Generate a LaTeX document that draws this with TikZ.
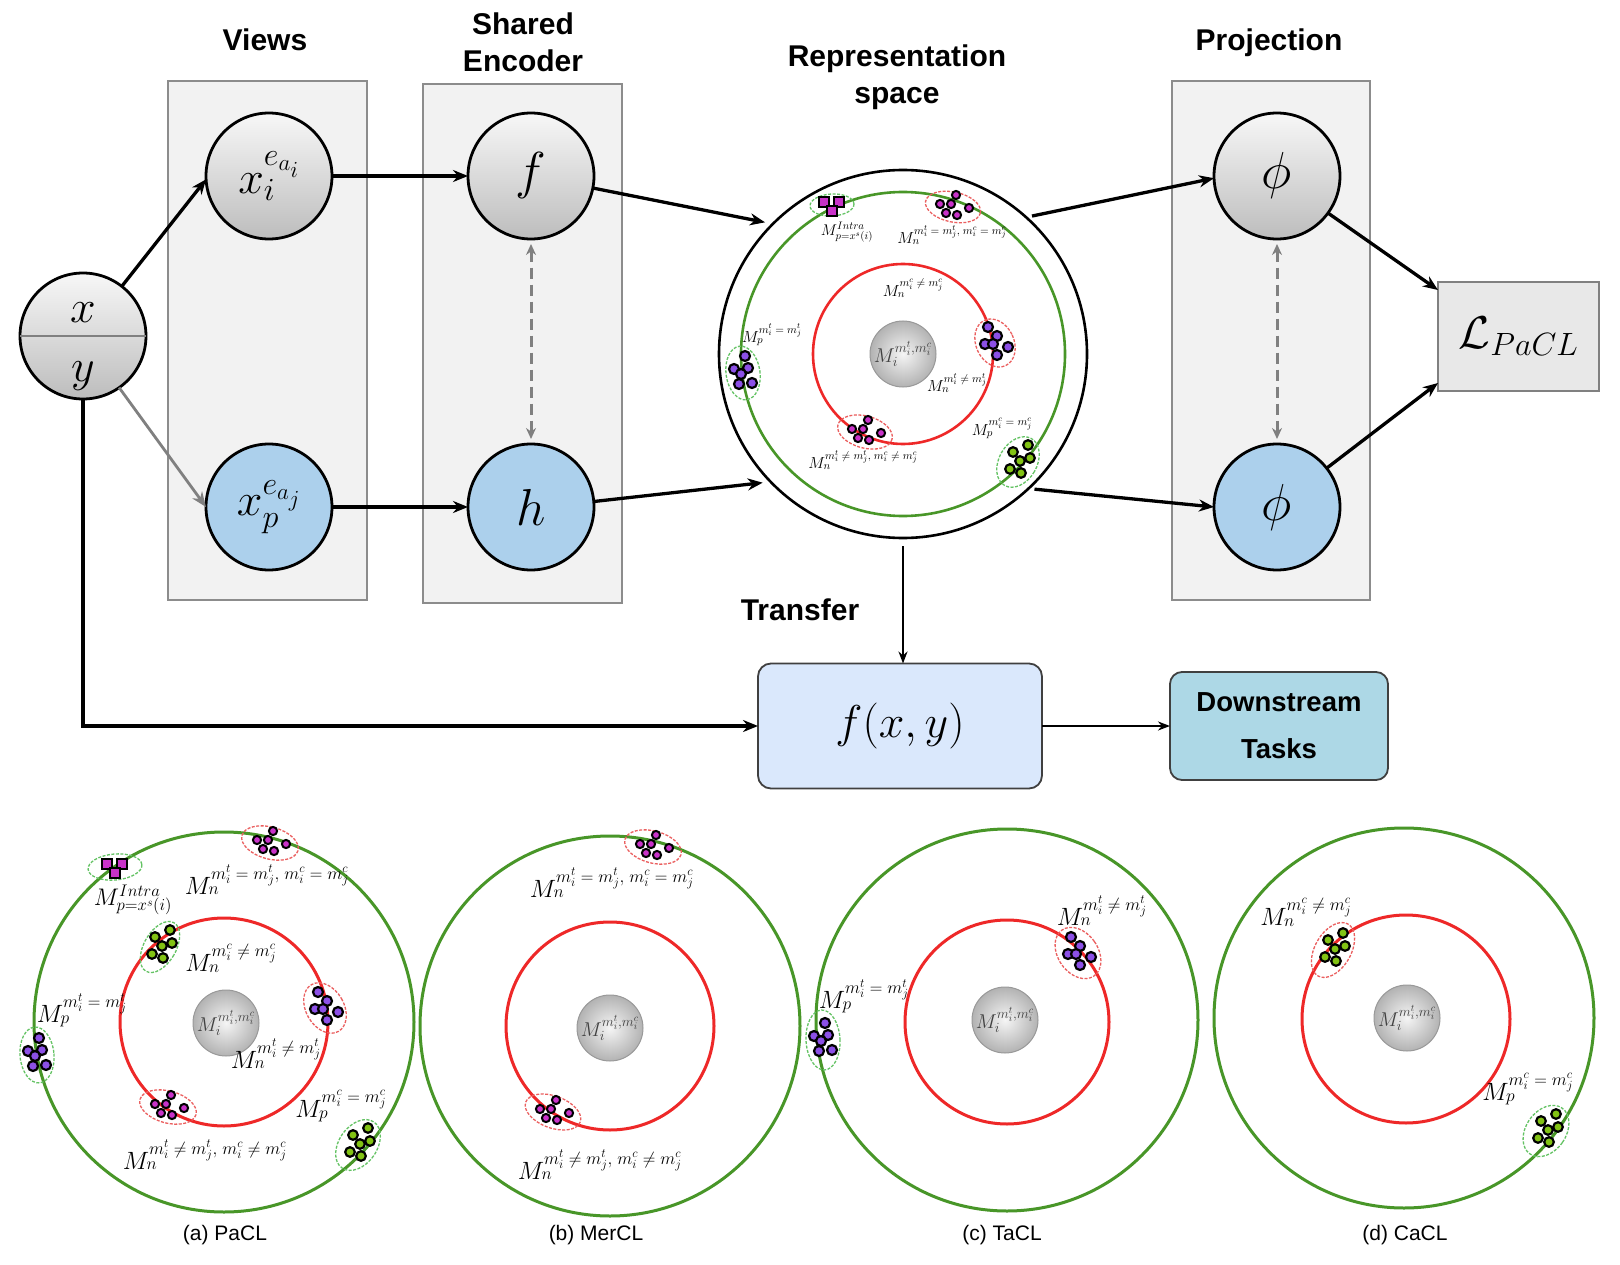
\RequirePackage{fix-cm}
\documentclass[tikz,border=0pt]{standalone}
\usepackage{fontspec}
\newfontfamily\hv{Liberation Sans}
\usetikzlibrary{arrows.meta,shapes.geometric,shadings,calc}
\definecolor{cblue}{RGB}{172,208,236}
\definecolor{gring}{RGB}{72,150,40}
\definecolor{rring}{RGB}{238,40,40}
\definecolor{gdash}{RGB}{100,195,100}
\definecolor{rdash}{RGB}{235,95,95}
\definecolor{cpur}{RGB}{140,80,230}
\definecolor{cpink}{RGB}{200,50,200}
\definecolor{cgrn}{RGB}{130,195,20}
\definecolor{fxyfill}{RGB}{218,232,252}
\definecolor{dsfill}{RGB}{173,216,230}
\newcommand\tEq{m_i^t\;=\;m_j^t}
\newcommand\cEq{m_i^c\;=\;m_j^c}
\newcommand\tNe{m_i^t\;\neq\;m_j^t}
\newcommand\cNe{m_i^c\;\neq\;m_j^c}
\newcommand\ovl[6]{\draw[#6,rotate around={#3:(#1,#2)}] (#1,#2) ellipse [x radius=#4, y radius=#5];}
\newcommand\purA[2]{\foreach \dx/\dy in {2/-17,-9/-4,5/-5,-2/1,-4/11,9/10}{\draw[pball] ({#1+\dx},{#2+\dy}) circle[radius=5];}}
\newcommand\purB[2]{\foreach \dx/\dy in {-7/-16,-10/1,2/-7,-2/1,2/12,13/4}{\draw[pball] ({#1+\dx},{#2+\dy}) circle[radius=5];}}
\newcommand\grn[2]{\foreach \dx/\dy in {10/-17,-5/-10,2/-1,12/-4,-8/7,3/11}{\draw[gball] ({#1+\dx},{#2+\dy}) circle[radius=4.8];}}
\newcommand\pinkc[2]{\foreach \dx/\dy in {-13/-3,3/-12,-2/-3,-7/6,4/8,16/1}{\draw[kball] ({#1+\dx},{#2+\dy}) circle[radius=4.1];}}
\newcommand\sqs[2]{\foreach \dx/\dy in {-8/-3,7/-3,0/6}{\draw[sqr] ({#1+\dx-5},{#2+\dy-5}) rectangle ++(10,10);}}
\begin{document}
\begin{tikzpicture}[x=1pt,y=-1pt,
  every node/.style={inner sep=0pt,outer sep=0pt},
  hdr/.style={font=\hv\bfseries\fontsize{30}{37}\selectfont,align=center},
  capt/.style={font=\hv\fontsize{21}{25}\selectfont},
  panel/.style={draw=black!45,fill=black!5,line width=1.6},
  gnode/.style={circle,draw=black,line width=2.8,minimum size=126,top color=black!3,bottom color=black!26},
  bnode/.style={circle,draw=black,line width=2.8,minimum size=126,fill=cblue},
  mbig/.style={font=\fontsize{46}{50}\selectfont},
  mhuge/.style={font=\fontsize{52}{56}\selectfont},
  arr/.style={-{Stealth[length=15,width=12]},line width=3.3},
  garr/.style={-{Stealth[length=15,width=12]},line width=2.8,draw=black!50},
  darr/.style={{Stealth[length=11,width=10]}-{Stealth[length=11,width=10]},line width=3,draw=black!50,dash pattern=on 11 off 6},
  tarr/.style={-{Stealth[length=12,width=9]},line width=2.2},
  ring/.style={line width=3},
  gd/.style={draw=gdash,line width=1.3,dash pattern=on 3 off 1.5},
  rd/.style={draw=rdash,line width=1.3,dash pattern=on 3 off 1.5},
  pball/.style={draw=black,line width=2.2,fill=cpur},
  gball/.style={draw=black,line width=2.2,fill=cgrn},
  kball/.style={draw=black,line width=2,fill=cpink},
  sqr/.style={draw=black,line width=1.6,fill=cpink},
  cnode/.style={circle,draw=black!40,line width=1,minimum size=66,inner color=black!4,outer color=black!30,font=\fontsize{20}{22}\selectfont,text=black!75},
  lab/.style={font=\fontsize{25}{28}\selectfont},
  ilab/.style={font=\fontsize{24}{28}\selectfont},
  rlab/.style={font=\fontsize{16}{18}\selectfont}]
\fill[white] (0,0) rectangle (1620,1265);
\useasboundingbox (0,0) rectangle (1620,1265);

% panels
\node[panel,minimum width=199,minimum height=519] (vbox) at (267.5,340.5) {};
\node[panel,minimum width=199,minimum height=519] (sebox) at (522.5,343.5) {};
\node[panel,minimum width=198,minimum height=519] (pbox) at (1271,340.5) {};

% headers
\node[hdr] (tviews) at (265,40) {Views};
\node[hdr] (tse) at (523,42) {Shared\\Encoder};
\node[hdr] (trep) at (897,77) {Representation\\space};
\node[hdr] (tproj) at (1269,43) {Projection};
\node[hdr] (ttr) at (800,610) {Transfer};

% main nodes
\node[gnode] (xy) at (83,336) {};
\draw[black!50,line width=1.6] (xy.west) -- (xy.east);
\node[mbig] (xlab) at (83,313) {$x$};
\node[mbig] (ylab) at (83,376) {$y$};
\node[gnode,mbig] (xi) at (269,176) {$x_i^{e_{a_i}}$};
\node[bnode,mbig] (xp) at (269,507) {$x_p^{e_{a_j}}$};
\node[gnode,mhuge] (f) at (531,176) {$f$};
\node[bnode,mhuge] (h) at (531,507) {$h$};
\node[gnode,mhuge] (phiT) at (1277,176) {$\phi$};
\node[bnode,mhuge] (phiB) at (1277,507) {$\phi$};
\node[draw=black!50,fill=black!9,line width=1.8,minimum width=161,minimum height=109,mbig] (L) at (1518.5,336.5) {$\mathcal{L}_{PaCL}$};
\node[draw=black!75,fill=fxyfill,line width=1.8,rounded corners=13,minimum width=284,minimum height=125,mbig] (fxy) at (900,726) {$f(x,y)$};
\node[draw=black!75,fill=dsfill,line width=1.8,rounded corners=12,minimum width=218,minimum height=108,font=\hv\bfseries\fontsize{27.5}{47}\selectfont,align=center] (ds) at (1279,726) {Downstream\\Tasks};

% representation space
\node[circle,draw=black,line width=2.6,minimum size=368] (rep) at (903,354) {};
\draw[gring,line width=2.6] (rep.center) circle[radius=162];
\draw[rring,line width=2.6] (rep.center) circle[radius=90];
\node[cnode] (repc) at (rep.center) {$M_i^{m_i^t,m_i^c}$};
\ovl{832}{205}{3}{22}{11}{gd} \sqs{832}{205}
\ovl{953}{207}{-12}{28}{15}{rd} \pinkc{953}{207}
\ovl{995}{343}{25}{19}{25}{rd} \purB{995}{343}
\ovl{743}{373}{8}{17}{27}{gd} \purA{743}{373}
\ovl{865}{432}{-15}{28}{16}{rd} \pinkc{865}{432}
\ovl{1018}{462}{-30}{19}{27}{gd} \grn{1018}{462}
\node[font=\fontsize{15.5}{18}\selectfont] (r1) at (847,232) {$M_{p=x^s(i)}^{Intra}$};
\node[rlab] (r2) at (952,235) {$M_n^{\tEq,\;\cEq}$};
\node[rlab] (r3) at (913,288) {$M_n^{\cNe}$};
\node[rlab] (r4) at (772,335) {$M_p^{\tEq}$};
\node[rlab] (r5) at (957,383) {$M_n^{\tNe}$};
\node[rlab] (r6) at (1002,428) {$M_p^{\cEq}$};
\node[rlab] (r7) at (863,460) {$M_n^{\tNe,\;\cNe}$};

% connectors
\draw[arr] (xy.52) -- (xi.183);
\draw[garr] (xy.305) -- (xp.180);
\draw[arr] (xi) -- (f);
\draw[arr] (xp) -- (h);
\draw[arr,shorten >=8] (f.-11) -- (rep.135);
\draw[arr,shorten >=8] (h.5) -- (rep.224);
\draw[arr,shorten <=6] (rep.48) -- (phiT.182);
\draw[arr,shorten <=6] (rep.313) -- (phiB.180);
\draw[arr] (phiT.-36) -- (L.150);
\draw[arr] (phiB.38) -- (L.210);
\draw[darr,shorten >=5,shorten <=5] (f) -- (h);
\draw[darr,shorten >=5,shorten <=5] (phiT) -- (phiB);
\draw[tarr,shorten <=8] (rep.south) -- (rep.south |- fxy.north);
\draw[arr] (xy.south) |- (fxy.west);
\draw[tarr] (fxy) -- (ds);

% (a) PaCL
\draw[gring,ring] (224,1022) circle[radius=190];
\draw[rring,ring] (224,1022) circle[radius=104];
\node[cnode] (ca) at (226,1023) {$M_i^{m_i^t,m_i^c}$};
\ovl{115}{867}{5}{27}{13}{gd} \sqs{115}{867}
\ovl{270}{843}{-15}{29}{16}{rd} \pinkc{270}{843}
\ovl{160}{947}{-30}{16}{28}{gd} \grn{160}{947}
\ovl{325}{1008}{30}{19}{27}{rd} \purB{325}{1008}
\ovl{37}{1055}{5}{17}{28}{gd} \purA{37}{1055}
\ovl{168}{1107}{-15}{29}{16}{rd} \pinkc{168}{1107}
\ovl{358}{1145}{-35}{19}{28}{gd} \grn{358}{1145}
\node[ilab] (a1) at (133,900) {$M_{p=x^s(i)}^{Intra}$};
\node[lab] (a2) at (267,880) {$M_n^{\tEq,\;\cEq}$};
\node[lab] (a3) at (231,958) {$M_n^{\cNe}$};
\node[lab] (a4) at (82,1010) {$M_p^{\tEq}$};
\node[lab] (a5) at (276,1054) {$M_n^{\tNe}$};
\node[lab] (a6) at (341,1106) {$M_p^{\cEq}$};
\node[lab] (a7) at (205,1155) {$M_n^{\tNe,\;\cNe}$};
\node[capt] (capa) at (225,1235) {(a) PaCL};

% (b) MerCL
\draw[gring,ring] (610,1026) circle[radius=190];
\draw[rring,ring] (610,1026) circle[radius=104];
\node[cnode] (cb) at (610,1028) {$M_i^{m_i^t,m_i^c}$};
\ovl{653}{847}{-15}{29}{16}{rd} \pinkc{653}{847}
\ovl{553}{1112}{-20}{29}{16}{rd} \pinkc{553}{1112}
\node[lab] (b1) at (612,883) {$M_n^{\tEq,\;\cEq}$};
\node[lab] (b2) at (600,1165) {$M_n^{\tNe,\;\cNe}$};
\node[capt] (capb) at (596,1235) {(b) MerCL};

% (c) TaCL
\draw[gring,ring] (1007,1020) circle[radius=191];
\draw[rring,ring] (1007,1022) circle[radius=102];
\node[cnode] (cc) at (1005,1020) {$M_i^{m_i^t,m_i^c}$};
\ovl{1078}{953}{35}{20}{28}{rd} \purB{1078}{953}
\ovl{823}{1040}{3}{17}{30}{gd} \purA{823}{1040}
\node[lab] (c1) at (1102,911) {$M_n^{\tNe}$};
\node[lab] (c2) at (864,996) {$M_p^{\tEq}$};
\node[capt] (capc) at (1002,1235) {(c) TaCL};

% (d) CaCL
\draw[gring,ring] (1404,1018) circle[radius=190];
\draw[rring,ring] (1406,1019) circle[radius=104];
\node[cnode] (cd) at (1407,1018) {$M_i^{m_i^t,m_i^c}$};
\ovl{1333}{950}{-30}{18}{30}{rd} \grn{1333}{950}
\ovl{1546}{1131}{-35}{20}{28}{gd} \grn{1546}{1131}
\node[lab] (d1) at (1306,912) {$M_n^{\cNe}$};
\node[lab] (d2) at (1528,1089) {$M_p^{\cEq}$};
\node[capt] (capd) at (1405,1235) {(d) CaCL};
\end{tikzpicture}
\end{document}
